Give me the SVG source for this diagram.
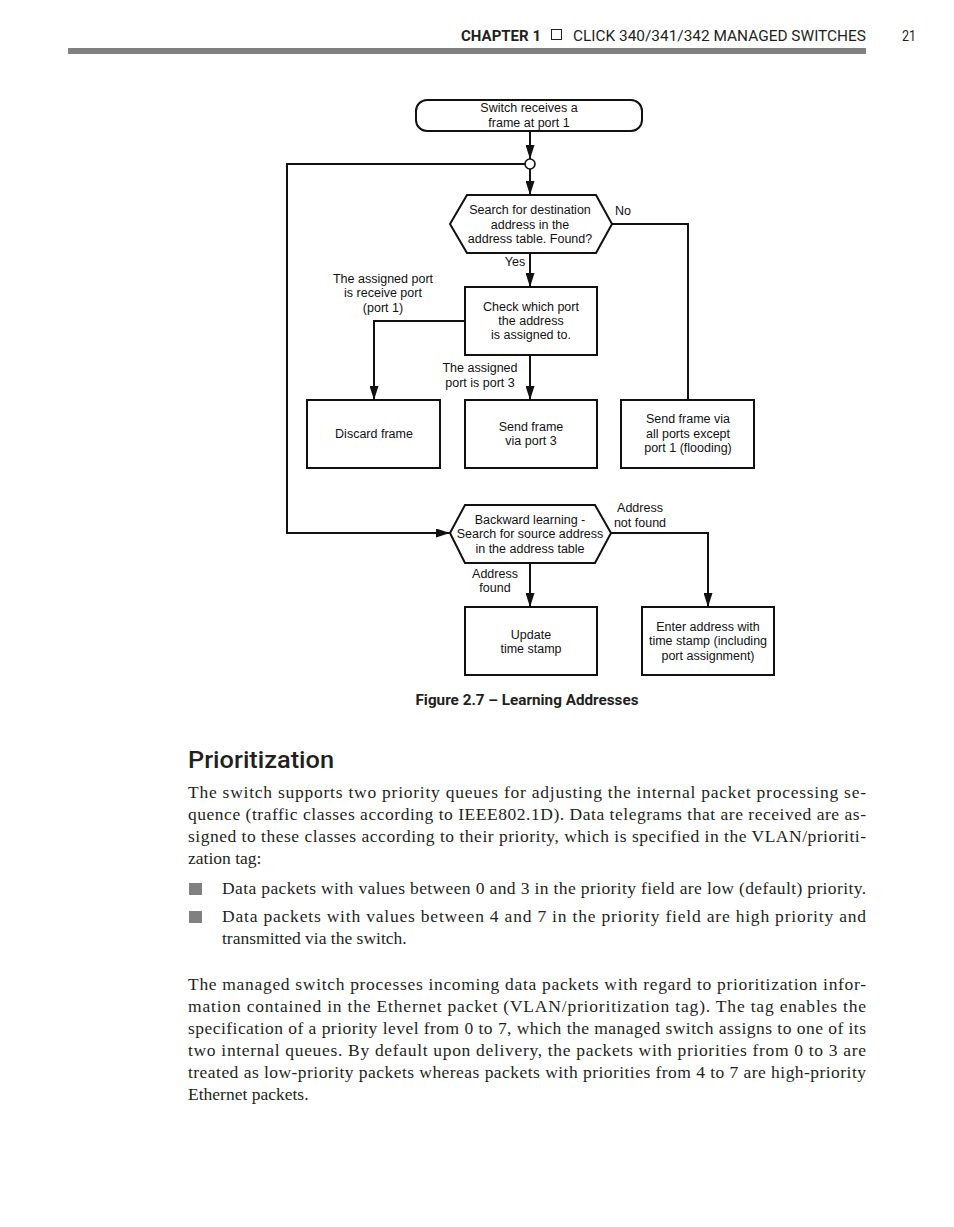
<svg xmlns="http://www.w3.org/2000/svg" width="954" height="1227" viewBox="0 0 954 1227">
<style>
.fc{font-family:"Liberation Sans",Arial,sans-serif;font-size:12.5px;fill:#111;text-anchor:middle}
.box{fill:#fff;stroke:#111;stroke-width:2}
.ln{fill:none;stroke:#111;stroke-width:2}
.body{font-family:"Liberation Serif","Times New Roman",serif;font-size:17.5px;fill:#231f20}
.hdr{font-family:Roboto,"Liberation Sans",sans-serif;font-size:15px;fill:#231f20}
</style>
<defs>
<marker id="ah" markerUnits="userSpaceOnUse" markerWidth="15" markerHeight="9" refX="14" refY="4.5" orient="auto">
<path d="M0,0 L14,4.5 L0,9 z" fill="#111"/>
</marker>
</defs>
<rect width="954" height="1227" fill="#fff"/>
<g id="header">
<text class="hdr" x="461" y="41" font-weight="700" textLength="80" lengthAdjust="spacingAndGlyphs">CHAPTER 1</text>
<rect x="551.5" y="29.5" width="10" height="10" fill="none" stroke="#231f20" stroke-width="1"/>
<text class="hdr" x="573" y="41" textLength="293" lengthAdjust="spacingAndGlyphs">CLICK 340/341/342 MANAGED SWITCHES</text>
<text class="hdr" x="902" y="41" textLength="14" lengthAdjust="spacingAndGlyphs">21</text>
<rect x="68" y="48" width="798" height="6" fill="#808080"/>
</g>
<g id="connectors">
<line class="ln" x1="530" y1="132" x2="530" y2="159" marker-end="url(#ah)"/>
<line class="ln" x1="530" y1="169" x2="530" y2="195" marker-end="url(#ah)"/>
<path class="ln" d="M525,164 H287 V533 H450" stroke-width="1.8" marker-end="url(#ah)"/>
<path class="ln" d="M612,224 H688 V400" stroke-width="1.6"/>
<line class="ln" x1="530" y1="253" x2="530" y2="287" marker-end="url(#ah)"/>
<path class="ln" d="M465,321 H374 V400" marker-end="url(#ah)"/>
<line class="ln" x1="530" y1="355" x2="530" y2="400" marker-end="url(#ah)"/>
<path class="ln" d="M611,533 H708 V607" stroke-width="3" marker-end="url(#ah)"/>
<line class="ln" x1="530" y1="563" x2="530" y2="607" marker-end="url(#ah)"/>
</g>
<g id="junction"><circle cx="530" cy="164" r="5" fill="#fff" stroke="#111" stroke-width="1.6"/></g>
<g id="start">
<rect class="box" x="416" y="100" width="226" height="31" rx="11"/>
<text class="fc" x="529" y="112">Switch receives a</text>
<text class="fc" x="529" y="127">frame at port 1</text>
</g>
<g id="search-dest">
<polygon class="box" points="450,224 467,195 596,195 612,224 596,253 467,253"/>
<text class="fc" x="530" y="214">Search for destination</text>
<text class="fc" x="530" y="229">address in the</text>
<text class="fc" x="530" y="243">address table. Found?</text>
</g>
<g id="labels">
<text class="fc" x="623" y="215">No</text>
<text class="fc" x="515" y="266">Yes</text>
<text class="fc" x="383" y="283">The assigned port</text>
<text class="fc" x="383" y="297">is receive port</text>
<text class="fc" x="383" y="312">(port 1)</text>
<text class="fc" x="480" y="372">The assigned</text>
<text class="fc" x="480" y="387">port is port 3</text>
<text class="fc" x="640" y="512">Address</text>
<text class="fc" x="640" y="527">not found</text>
<text class="fc" x="495" y="578">Address</text>
<text class="fc" x="495" y="592">found</text>
</g>
<g id="check-port">
<rect class="box" x="465" y="287" width="132" height="68"/>
<text class="fc" x="531" y="311">Check which port</text>
<text class="fc" x="531" y="325">the address</text>
<text class="fc" x="531" y="339">is assigned to.</text>
</g>
<g id="discard">
<rect class="box" x="307" y="400" width="133" height="68"/>
<text class="fc" x="374" y="438">Discard frame</text>
</g>
<g id="send-port3">
<rect class="box" x="465" y="400" width="132" height="68"/>
<text class="fc" x="531" y="431">Send frame</text>
<text class="fc" x="531" y="445">via port 3</text>
</g>
<g id="flooding">
<rect class="box" x="621" y="400" width="133" height="68"/>
<text class="fc" x="688" y="423">Send frame via</text>
<text class="fc" x="688" y="438">all ports except</text>
<text class="fc" x="688" y="452">port 1 (flooding)</text>
</g>
<g id="backward">
<polygon class="box" points="450,533 465,505 595,505 611,533 595,563 465,563"/>
<text class="fc" x="530" y="524">Backward learning -</text>
<text class="fc" x="530" y="538">Search for source address</text>
<text class="fc" x="530" y="553">in the address table</text>
</g>
<g id="update">
<rect class="box" x="465" y="607" width="132" height="68"/>
<text class="fc" x="531" y="639">Update</text>
<text class="fc" x="531" y="653">time stamp</text>
</g>
<g id="enter">
<rect class="box" x="642" y="607" width="132" height="68"/>
<text class="fc" x="708" y="631">Enter address with</text>
<text class="fc" x="708" y="645">time stamp (including</text>
<text class="fc" x="708" y="660">port assignment)</text>
</g>
<g id="caption">
<text x="527" y="705" text-anchor="middle" font-family="Roboto,'Liberation Sans',sans-serif" font-weight="700" font-size="14.5" fill="#231f20" textLength="223" lengthAdjust="spacingAndGlyphs">Figure 2.7 – Learning Addresses</text>
</g>
<g id="text">
<text x="188" y="768" font-family="Roboto,'Liberation Sans',sans-serif" font-weight="500" font-size="24" fill="#231f20" textLength="146" lengthAdjust="spacingAndGlyphs">Prioritization</text>
<text class="body" x="188" y="798" textLength="678" lengthAdjust="spacing">The switch supports two priority queues for adjusting the internal packet processing se-</text>
<text class="body" x="188" y="820" textLength="678" lengthAdjust="spacing">quence (traffic classes according to IEEE802.1D). Data telegrams that are received are as-</text>
<text class="body" x="188" y="842" textLength="678" lengthAdjust="spacing">signed to these classes according to their priority, which is specified in the VLAN/prioriti-</text>
<text class="body" x="188" y="864">zation tag:</text>
<rect x="189" y="883" width="13" height="12" fill="#808080"/>
<text class="body" x="222" y="894" textLength="644" lengthAdjust="spacing">Data packets with values between 0 and 3 in the priority field are low (default) priority.</text>
<rect x="189" y="911" width="13" height="12" fill="#808080"/>
<text class="body" x="222" y="922" textLength="644" lengthAdjust="spacing">Data packets with values between 4 and 7 in the priority field are high priority and</text>
<text class="body" x="222" y="944">transmitted via the switch.</text>
<text class="body" x="188" y="990" textLength="678" lengthAdjust="spacing">The managed switch processes incoming data packets with regard to prioritization infor-</text>
<text class="body" x="188" y="1012" textLength="678" lengthAdjust="spacing">mation contained in the Ethernet packet (VLAN/prioritization tag). The tag enables the</text>
<text class="body" x="188" y="1034" textLength="678" lengthAdjust="spacing">specification of a priority level from 0 to 7, which the managed switch assigns to one of its</text>
<text class="body" x="188" y="1056" textLength="678" lengthAdjust="spacing">two internal queues. By default upon delivery, the packets with priorities from 0 to 3 are</text>
<text class="body" x="188" y="1078" textLength="678" lengthAdjust="spacing">treated as low-priority packets whereas packets with priorities from 4 to 7 are high-priority</text>
<text class="body" x="188" y="1100">Ethernet packets.</text>
</g>
</svg>
